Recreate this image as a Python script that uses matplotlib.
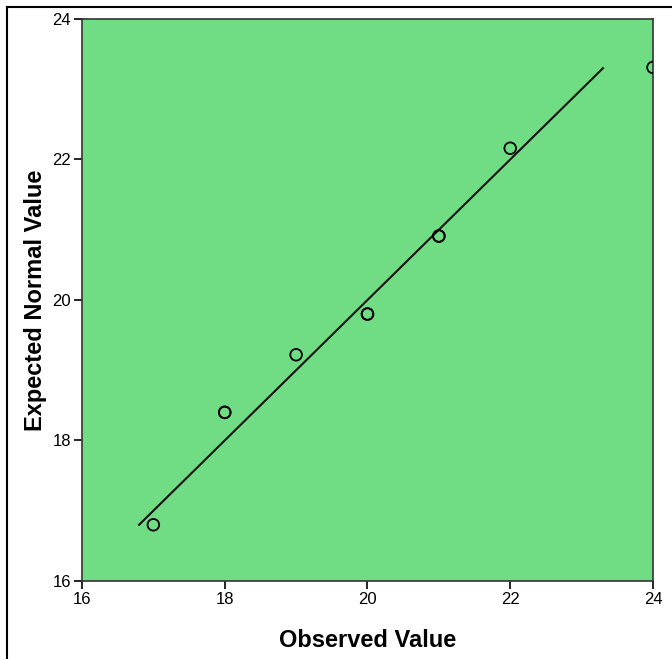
import numpy as np
import matplotlib.pyplot as plt
from matplotlib.lines import Line2D

plt.rcParams['font.family'] = ['Liberation Sans', 'DejaVu Sans']

# observed values and expected normal values (duplicates drawn twice, like SPSS does)
observed = [17, 18, 18, 19, 20, 20, 21, 21, 22, 24]
expected = [16.8, 18.4, 18.4, 19.22, 19.8, 19.8, 20.91, 20.91, 22.16, 23.31]
line_range = [16.8, 23.3]
ticks = [16, 18, 20, 22, 24]

fig = plt.figure(figsize=(6.72, 6.59), dpi=100)
ax = fig.add_axes([0.122, 0.1184, 0.8497, 0.8528])
ax.set_facecolor('#70dd85')

ax.plot(line_range, line_range, color='#111111', lw=1.5)
ax.scatter(observed, expected, s=70, facecolors='none', edgecolors='black', linewidths=1.3, zorder=3)

ax.set_xlim(16, 24)
ax.set_ylim(16, 24)
ax.set_xticks(ticks)
ax.set_yticks(ticks)
ax.tick_params(direction='out', length=6, width=1.2, labelsize=12, colors='black', pad=2)
for s in ax.spines.values():
    s.set_color('#333333')
    s.set_linewidth(1.2)

ax.set_xlabel('Observed Value', fontsize=17, fontweight='bold', labelpad=16)
ax.set_ylabel('Expected Normal Value', fontsize=17, fontweight='bold', labelpad=4)

# outer frame (left and top edges)
fig.add_artist(Line2D([0.0104, 0.0104], [0, 0.9894], color='black', lw=1.5, transform=fig.transFigure))
fig.add_artist(Line2D([0.0104, 1.0], [0.9894, 0.9894], color='black', lw=1.5, transform=fig.transFigure))

fig.savefig('out.png', dpi=100)
